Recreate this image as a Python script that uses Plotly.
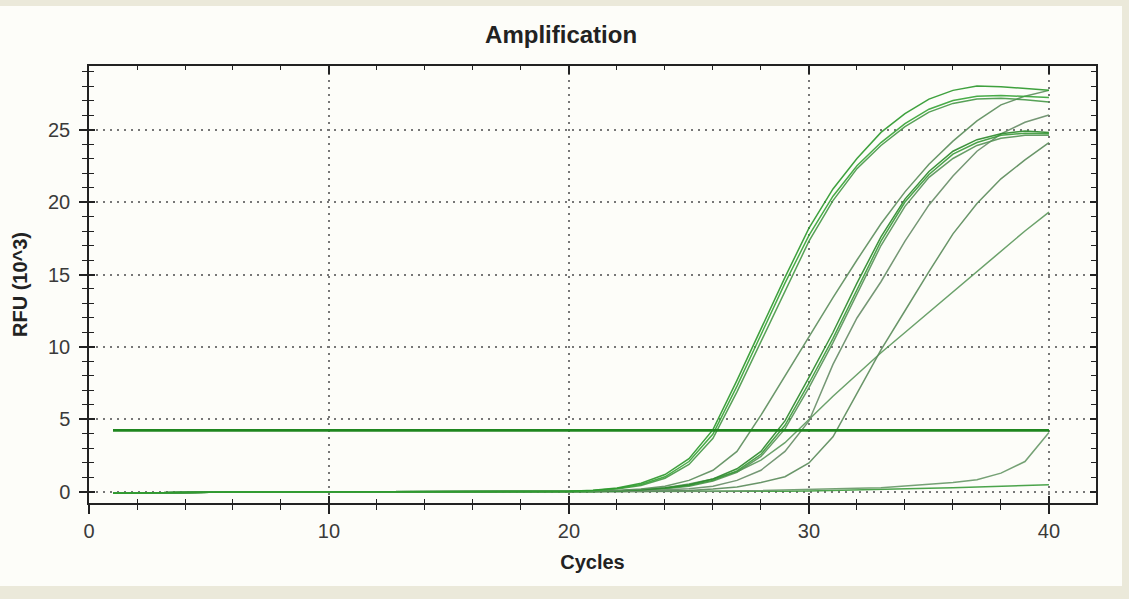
import plotly.graph_objects as go

cycles = list(range(1, 41))

a1 = [-0.08, -0.05, -0.03, -0.02, -0.01, 0, 0, 0, 0, 0, 0, 0, 0, 0, 0, 0, 0, 0.01, 0.01,
      0.05, 0.12, 0.28, 0.6, 1.2, 2.3, 4.3, 7.7, 11.3, 14.8, 18.2, 20.9, 23.0, 24.8, 26.1, 27.1, 27.7, 28.0, 27.95, 27.8, 27.7]
a2 = [-0.08, -0.05, -0.03, -0.02, -0.01, 0, 0, 0, 0, 0, 0, 0, 0, 0, 0, 0, 0, 0.01, 0.01,
      0.04, 0.1, 0.24, 0.52, 1.05, 2.1, 4.0, 7.3, 10.9, 14.4, 17.7, 20.4, 22.5, 24.1, 25.4, 26.4, 27.0, 27.3, 27.35, 27.3, 27.2]
a3 = [-0.08, -0.05, -0.03, -0.02, -0.01, 0, 0, 0, 0, 0, 0, 0, 0, 0, 0, 0, 0, 0.01, 0.01,
      0.03, 0.08, 0.2, 0.45, 0.95, 1.9, 3.7, 6.9, 10.4, 13.9, 17.3, 20.1, 22.3, 23.9, 25.2, 26.2, 26.8, 27.1, 27.15, 27.05, 26.9]
t1 = [-0.08, -0.05, -0.03, -0.02, -0.01, 0, 0, 0, 0, 0, 0, 0, 0, 0, 0, 0, 0, 0.01, 0.01,
      0.02, 0.05, 0.1, 0.2, 0.4, 0.8, 1.5, 2.8, 5.3, 8.0, 10.7, 13.4, 16.0, 18.5, 20.7, 22.6, 24.2, 25.6, 26.7, 27.3, 27.7]
v1 = [-0.08, -0.05, -0.03, -0.02, -0.01, 0, 0, 0, 0, 0, 0, 0, 0, 0, 0, 0, 0, 0.01, 0.01,
      0.02, 0.04, 0.08, 0.15, 0.28, 0.5, 0.9, 1.6, 2.8, 4.9, 7.9, 11.0, 14.4, 17.6, 20.2, 22.1, 23.5, 24.3, 24.7, 24.9, 24.8]
v2 = [-0.08, -0.05, -0.03, -0.02, -0.01, 0, 0, 0, 0, 0, 0, 0, 0, 0, 0, 0, 0, 0.01, 0.01,
      0.02, 0.04, 0.07, 0.14, 0.25, 0.45, 0.8, 1.45, 2.6, 4.6, 7.5, 10.6, 14.0, 17.3, 20.0, 21.9, 23.3, 24.1, 24.6, 24.75, 24.7]
v3 = [-0.08, -0.05, -0.03, -0.02, -0.01, 0, 0, 0, 0, 0, 0, 0, 0, 0, 0, 0, 0, 0.01, 0.01,
      0.01, 0.03, 0.06, 0.12, 0.22, 0.4, 0.75, 1.35, 2.45, 4.35, 7.2, 10.3, 13.7, 17.0, 19.7, 21.7, 23.0, 23.9, 24.4, 24.6, 24.6]
u1 = [-0.08, -0.05, -0.03, -0.02, -0.01, 0, 0, 0, 0, 0, 0, 0, 0, 0, 0, 0, 0, 0.01, 0.01,
      0.01, 0.02, 0.04, 0.07, 0.12, 0.22, 0.4, 0.8, 1.5, 2.8, 4.9, 8.8, 12.0, 14.5, 17.3, 19.8, 21.8, 23.5, 24.7, 25.5, 26.0]
l1 = [-0.08, -0.05, -0.03, -0.02, -0.01, 0, 0, 0, 0, 0, 0, 0, 0, 0, 0, 0, 0, 0.01, 0.01,
      0.01, 0.02, 0.05, 0.15, 0.3, 0.55, 0.9, 1.4, 2.2, 3.4, 5.0, 6.6, 8.1, 9.6, 11.0, 12.4, 13.8, 15.2, 16.6, 18.0, 19.3]
s1 = [-0.08, -0.05, -0.03, -0.02, -0.01, 0, 0, 0, 0, 0, 0, 0, 0, 0, 0, 0, 0, 0.01, 0.01,
      0.0, 0.01, 0.02, 0.04, 0.06, 0.1, 0.2, 0.35, 0.65, 1.05, 2.0, 3.8, 6.8, 9.8, 12.5, 15.2, 17.8, 19.9, 21.6, 22.9, 24.1]
f1 = [-0.08, -0.05, -0.03, -0.02, -0.01, 0, 0, 0, 0, 0, 0, 0, 0, 0, 0, 0, 0, 0.01, 0.01,
      0.0, 0.0, 0.0, 0.01, 0.02, 0.03, 0.05, 0.07, 0.1, 0.12, 0.15, 0.2, 0.25, 0.3, 0.4, 0.5, 0.65, 0.85, 1.3, 2.1, 4.1]
f2 = [-0.08, -0.05, -0.03, -0.02, -0.01, 0, 0, 0, 0, 0, 0, 0, 0, 0, 0, 0, 0, 0.01, 0.01,
      0.0, 0.0, 0.0, 0.0, 0.0, 0.01, 0.02, 0.03, 0.04, 0.05, 0.07, 0.1, 0.12, 0.16, 0.2, 0.25, 0.3, 0.35, 0.4, 0.45, 0.5]

series = [f2, f1, l1, s1, u1, v3, v2, v1, t1, a3, a2, a1]
colors = ["#3d9d3d", "#6a9a6a", "#5f9a5f", "#5d8d5d", "#6a8f6a", "#5a955a",
          "#3c9c3c", "#2e8b2e", "#5f8f5f", "#4a9a4a", "#3aa63a", "#2f9a2f"]

threshold = 4.25
threshold_x = [1, 40]

x_ticks = [0, 10, 20, 30, 40]
y_ticks = [0, 5, 10, 15, 20, 25]

FONT = "Arial, 'Liberation Sans', sans-serif"

fig = go.Figure()

for vals, col in zip(series, colors):
    fig.add_trace(go.Scatter(x=cycles, y=vals, mode="lines",
                             line=dict(color=col, width=1.5),
                             opacity=0.92, showlegend=False, hoverinfo="skip"))

fig.add_trace(go.Scatter(x=threshold_x, y=[threshold, threshold], mode="lines",
                         line=dict(color="#1f861f", width=2.6),
                         showlegend=False, hoverinfo="skip"))

# helper traces so overlay axes are drawn
fig.add_trace(go.Scatter(x=[None], y=[None], xaxis="x2", yaxis="y", showlegend=False, hoverinfo="skip"))
fig.add_trace(go.Scatter(x=[None], y=[None], xaxis="x3", yaxis="y", showlegend=False, hoverinfo="skip"))
fig.add_trace(go.Scatter(x=[None], y=[None], xaxis="x", yaxis="y2", showlegend=False, hoverinfo="skip"))
fig.add_trace(go.Scatter(x=[None], y=[None], xaxis="x", yaxis="y3", showlegend=False, hoverinfo="skip"))

XR = [0, 41.96]
YR = [-0.76, 29.38]

fig.update_layout(
    width=1129, height=599,
    margin=dict(l=89, r=33, t=66, b=96),
    paper_bgcolor="#ebe9da",
    plot_bgcolor="white",
    title=dict(text="<b>Amplification</b>", x=0.497, xanchor="center", y=0.942, yanchor="middle",
               font=dict(family=FONT, size=24, color="#222")),
    font=dict(family=FONT, size=20, color="#3a3a3a"),
    xaxis=dict(range=XR, tickvals=x_ticks, ticks="outside", ticklen=9, tickwidth=1.5,
               tickcolor="#222", showline=True, linecolor="#222", linewidth=1.5,
               showgrid=True, gridcolor="#777", gridwidth=1.5, griddash="2px,5px",
               zeroline=False, ticklabelstandoff=0,
               minor=dict(dtick=2, ticks="outside", ticklen=5, tickwidth=1.3, tickcolor="#222", showgrid=False),
               title=dict(text="<b>Cycles</b>", font=dict(family=FONT, size=20, color="#222"), standoff=14),
               tickfont=dict(size=20, color="#3a3a3a")),
    xaxis2=dict(range=XR, overlaying="x", side="bottom", anchor="y", tickvals=x_ticks,
                ticks="inside", ticklen=7, tickwidth=1.5, tickcolor="#222",
                showticklabels=False, showgrid=False, zeroline=False, showline=False,
                minor=dict(dtick=2, ticks="inside", ticklen=4, tickwidth=1.3, tickcolor="#222", showgrid=False)),
    xaxis3=dict(range=XR, overlaying="x", side="top", anchor="y", tickvals=x_ticks,
                ticks="inside", ticklen=8, tickwidth=1.5, tickcolor="#222",
                showticklabels=False, showgrid=False, zeroline=False,
                showline=True, linecolor="#222", linewidth=1.5,
                minor=dict(dtick=2, ticks="inside", ticklen=4, tickwidth=1.3, tickcolor="#222", showgrid=False)),
    yaxis=dict(range=YR, tickvals=y_ticks, ticks="outside", ticklen=8, tickwidth=1.5,
               tickcolor="#222", showline=True, linecolor="#222", linewidth=1.5,
               showgrid=True, gridcolor="#777", gridwidth=1.5, griddash="2px,5px",
               zeroline=False, ticklabelstandoff=5,
               minor=dict(dtick=1, ticks="outside", ticklen=5, tickwidth=1.3, tickcolor="#222", showgrid=False),
               title=dict(text="<b>RFU (10^3)</b>", font=dict(family=FONT, size=20, color="#222"), standoff=15),
               tickfont=dict(size=20, color="#3a3a3a")),
    yaxis2=dict(range=YR, overlaying="y", side="left", anchor="x", tickvals=y_ticks,
                ticks="inside", ticklen=6, tickwidth=1.5, tickcolor="#222",
                showticklabels=False, showgrid=False, zeroline=False, showline=False,
                minor=dict(dtick=1, ticks="inside", ticklen=5, tickwidth=1.3, tickcolor="#222", showgrid=False)),
    yaxis3=dict(range=YR, overlaying="y", side="right", anchor="x", tickvals=y_ticks,
                ticks="inside", ticklen=6, tickwidth=1.5, tickcolor="#222",
                showticklabels=False, showgrid=False, zeroline=False,
                showline=True, linecolor="#222", linewidth=1.5,
                minor=dict(dtick=1, ticks="inside", ticklen=5, tickwidth=1.3, tickcolor="#222", showgrid=False)),
    shapes=[dict(type="rect", xref="paper", yref="paper", x0=-89/1007, x1=(1122-89)/1007,
                 y0=(503-586)/437, y1=(503-6)/437,
                 fillcolor="#fdfdf9", line=dict(width=0), layer="below")],
)

fig.write_html("out.html")
